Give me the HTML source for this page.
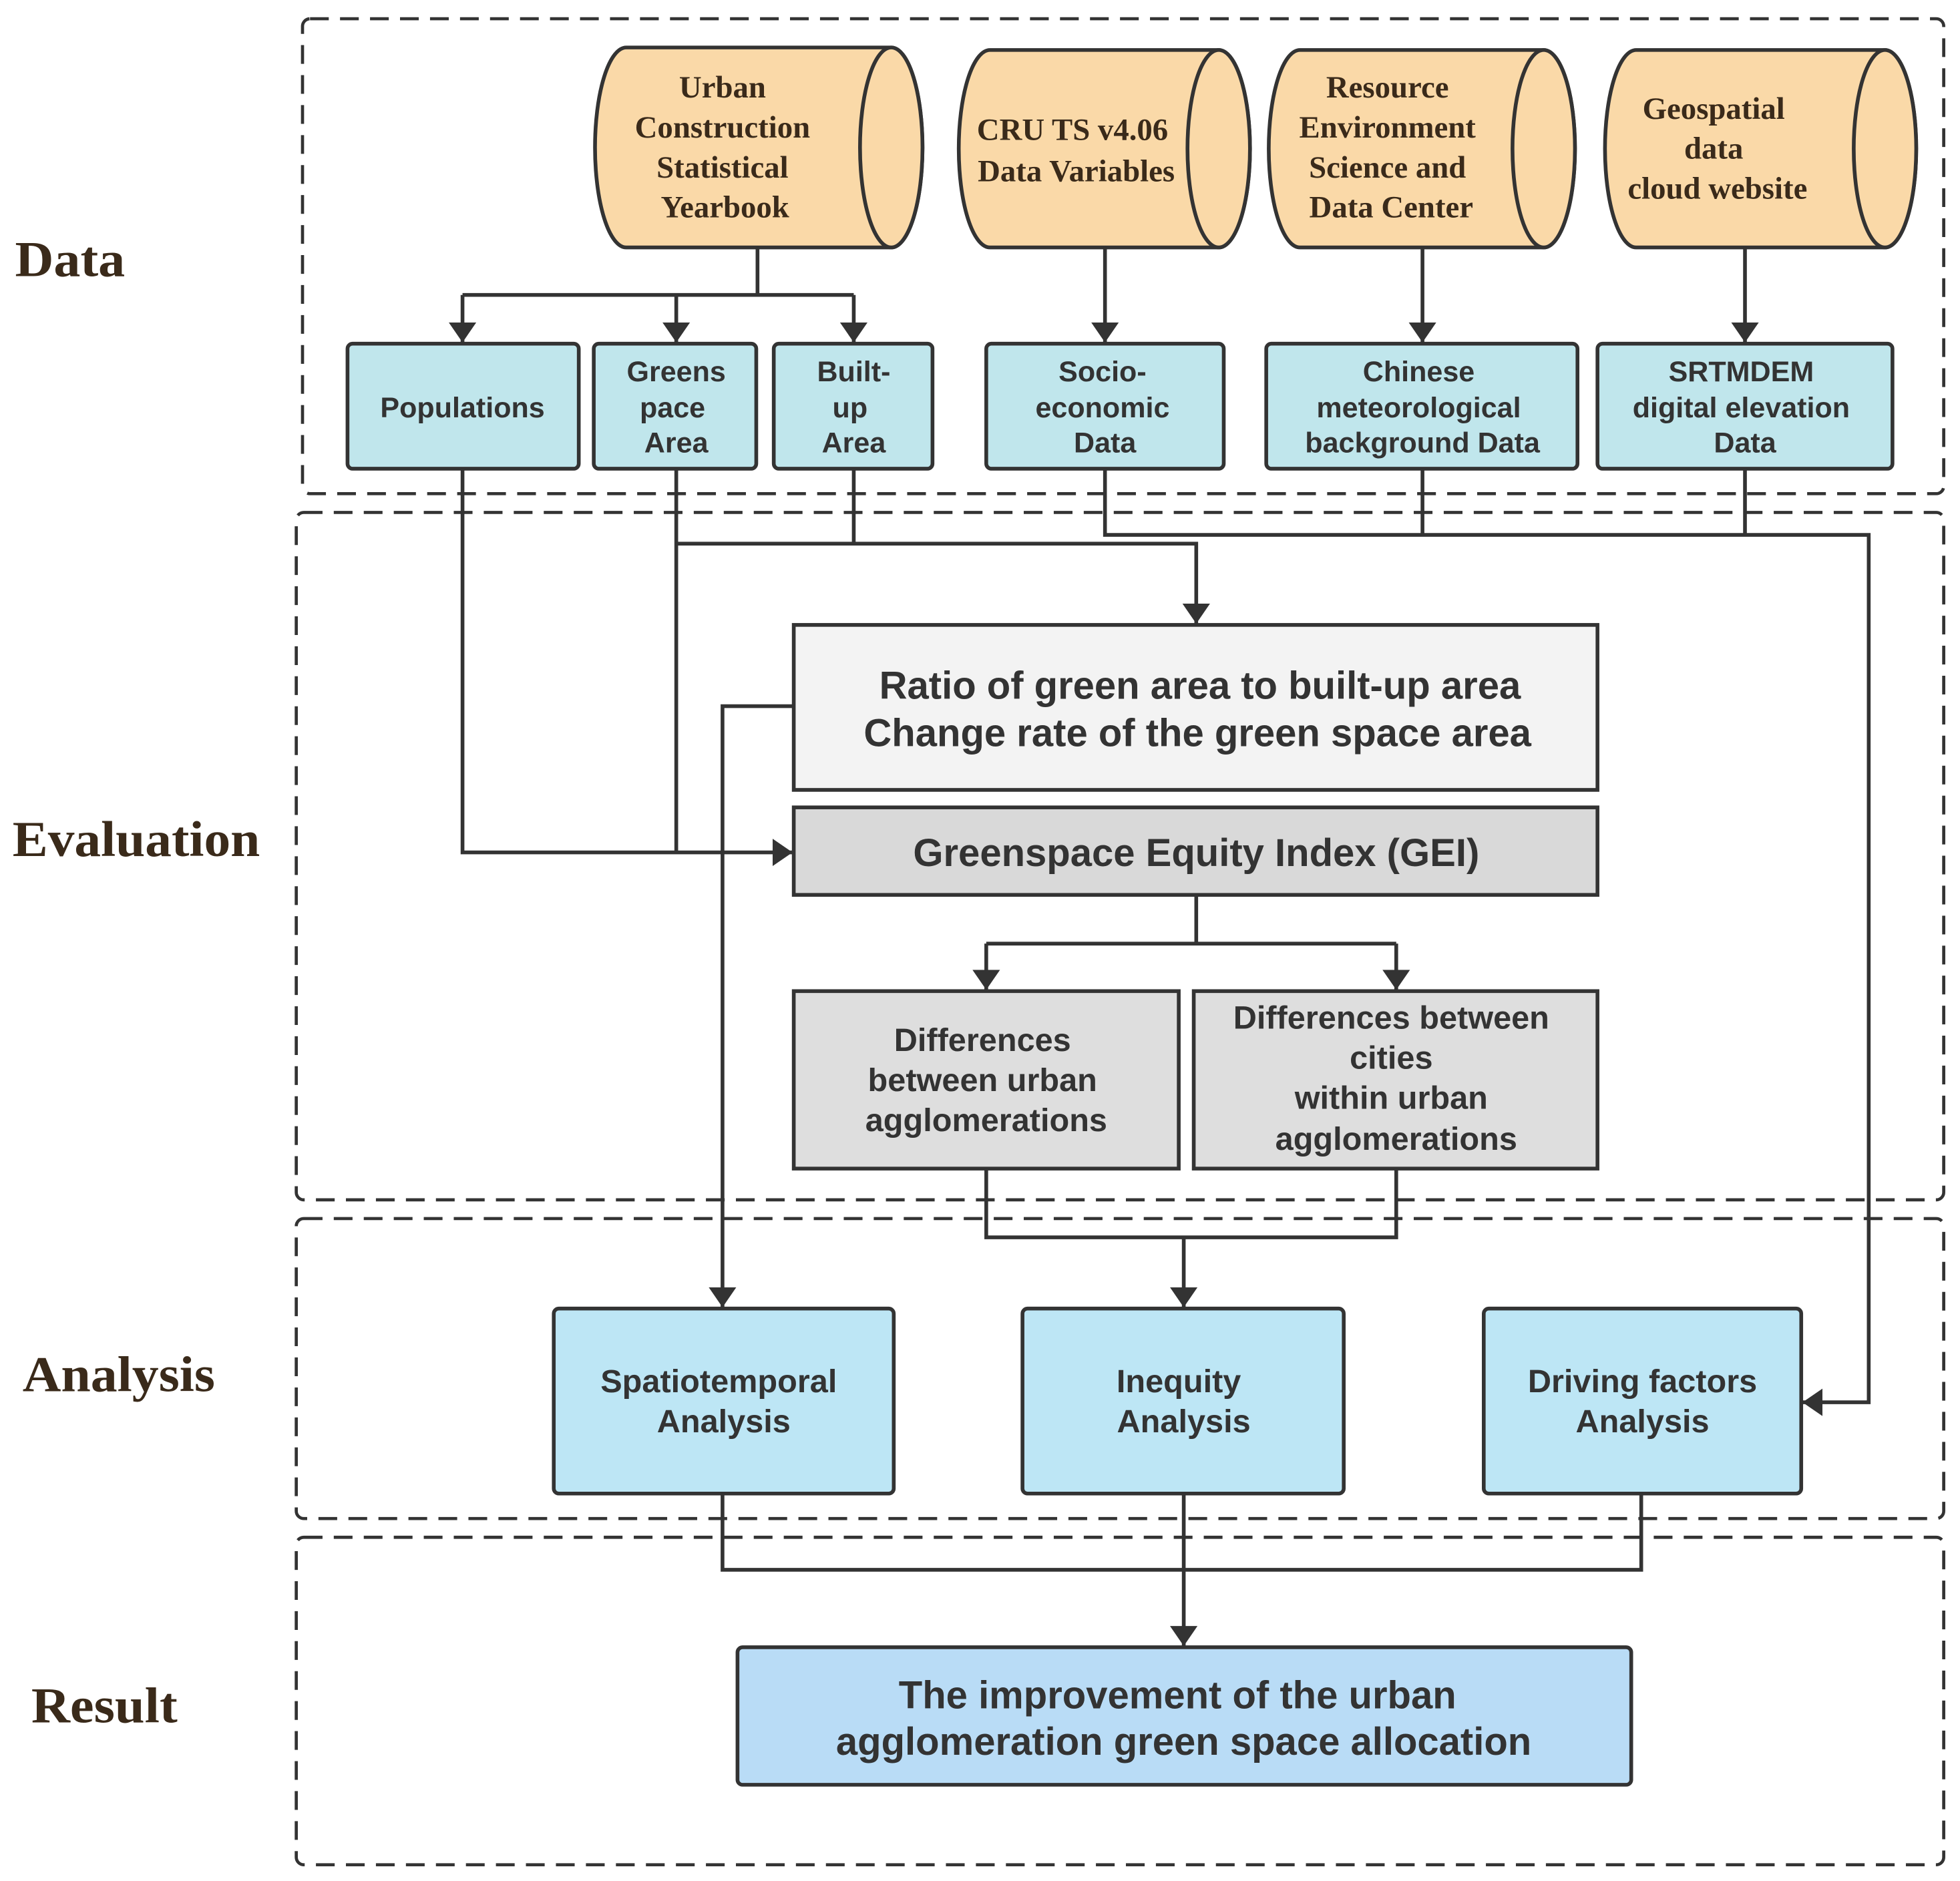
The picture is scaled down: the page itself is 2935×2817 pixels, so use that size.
<!DOCTYPE html>
<html><head><meta charset="utf-8"><style>
html,body{margin:0;padding:0;background:#fff;}
svg{display:block;}
.s{font-family:"Liberation Serif",serif;font-weight:bold;fill:#3a2a1a;}
.b{font-family:"Liberation Sans",sans-serif;font-weight:bold;fill:#333;}
</style></head><body>
<svg width="2935" height="2817" viewBox="0 0 1568 1505" xmlns="http://www.w3.org/2000/svg">
<defs>
<marker id="A" viewBox="0 0 10 10" markerWidth="16" markerHeight="22" refX="10" refY="5" orient="auto" markerUnits="userSpaceOnUse" preserveAspectRatio="none"><path d="M0,0 L10,5 L0,10 Z" fill="#333"/></marker></defs>
<rect width="1568" height="1505" fill="#fff"/>
<g fill="none" stroke="#333" stroke-width="2.5" stroke-dasharray="15,9">
<rect x="242" y="15" width="1313" height="380" rx="6"/>
<rect x="237" y="410" width="1318" height="550" rx="6"/>
<rect x="237" y="975" width="1318" height="240" rx="6"/>
<rect x="237" y="1230" width="1318" height="262" rx="6"/>
</g>
<g class="s" font-size="40"><text x="12" y="221" textLength="88" lengthAdjust="spacingAndGlyphs">Data</text><text x="10" y="685" textLength="198" lengthAdjust="spacingAndGlyphs">Evaluation</text><text x="18" y="1113" textLength="154" lengthAdjust="spacingAndGlyphs">Analysis</text><text x="25" y="1378" textLength="117" lengthAdjust="spacingAndGlyphs">Result</text></g>
<g fill="#fad9a8" stroke="#333" stroke-width="3">
<path d="M501,38 H713 A25,80 0 0 1 713,198 H501 A25,80 0 0 1 501,38 Z"/><ellipse cx="713" cy="118" rx="25" ry="80"/>
<path d="M792,40 H975 A25,79 0 0 1 975,198 H792 A25,79 0 0 1 792,40 Z"/><ellipse cx="975" cy="119" rx="25" ry="79"/>
<path d="M1040,40 H1235 A25,79 0 0 1 1235,198 H1040 A25,79 0 0 1 1040,40 Z"/><ellipse cx="1235" cy="119" rx="25" ry="79"/>
<path d="M1309,40 H1508 A25,79 0 0 1 1508,198 H1309 A25,79 0 0 1 1309,40 Z"/><ellipse cx="1508" cy="119" rx="25" ry="79"/>
</g>
<g class="s" font-size="25" text-anchor="middle">
<text x="578" y="78">Urban</text><text x="578" y="110">Construction</text><text x="578" y="142">Statistical</text><text x="580" y="174">Yearbook</text>
<text x="858" y="112">CRU TS v4.06</text><text x="861" y="145">Data Variables</text>
<text x="1110" y="78">Resource</text><text x="1110" y="110">Environment</text><text x="1110" y="142">Science and</text><text x="1113" y="174">Data Center</text>
<text x="1371" y="95">Geospatial</text><text x="1371" y="127">data</text><text x="1374" y="159">cloud website</text>
</g>
<g stroke="#333" stroke-width="3">
<g fill="#c0e6ec">
<rect x="278" y="275" width="185" height="100" rx="4"/><rect x="475" y="275" width="130" height="100" rx="4"/><rect x="619" y="275" width="127" height="100" rx="4"/>
<rect x="789" y="275" width="190" height="100" rx="4"/><rect x="1013" y="275" width="249" height="100" rx="4"/><rect x="1278" y="275" width="236" height="100" rx="4"/>
</g>
<rect x="635" y="500" width="643" height="132" fill="#f3f3f3"/>
<rect x="635" y="646" width="643" height="70" fill="#d9d9d9"/>
<rect x="635" y="793" width="308" height="142" fill="#dedede"/>
<rect x="955" y="793" width="323" height="142" fill="#dedede"/>
<g fill="#bde6f5"><rect x="443" y="1047" width="272" height="148" rx="4"/><rect x="818" y="1047" width="257" height="148" rx="4"/><rect x="1187" y="1047" width="254" height="148" rx="4"/></g>
<rect x="590" y="1318" width="715" height="110" rx="4" fill="#b9dcf6"/>
</g>
<g class="b" font-size="23" text-anchor="middle">
<text x="370" y="334">Populations</text>
<text x="541" y="305">Greens</text><text x="538" y="334">pace</text><text x="541" y="362">Area</text>
<text x="683" y="305">Built-</text><text x="680" y="334">up</text><text x="683" y="362">Area</text>
<text x="882" y="305">Socio-</text><text x="882" y="334">economic</text><text x="884" y="362">Data</text>
<text x="1135" y="305">Chinese</text><text x="1135" y="334">meteorological</text><text x="1138" y="362">background Data</text>
<text x="1393" y="305">SRTMDEM</text><text x="1393" y="334">digital elevation</text><text x="1396" y="362">Data</text>
</g>
<g class="b" font-size="31" text-anchor="middle">
<text x="960" y="559">Ratio of green area to built-up area</text>
<text x="958" y="597">Change rate of the green space area</text>
<text x="957" y="693">Greenspace Equity Index (GEI)</text>
<text x="942" y="1367">The improvement of the urban</text>
<text x="947" y="1404">agglomeration green space allocation</text>
</g>
<g class="b" font-size="26" text-anchor="middle">
<text x="786" y="841">Differences</text><text x="786" y="873">between urban</text><text x="789" y="905">agglomerations</text>
<text x="1113" y="823">Differences between</text><text x="1113" y="855">cities</text><text x="1113" y="887">within urban</text><text x="1117" y="920">agglomerations</text>
<text x="575" y="1114">Spatiotemporal</text><text x="579" y="1146">Analysis</text>
<text x="943" y="1114">Inequity</text><text x="947" y="1146">Analysis</text>
<text x="1314" y="1114">Driving factors</text><text x="1314" y="1146">Analysis</text>
</g>
<g fill="none" stroke="#333" stroke-width="3">
<path d="M606,198 V236 M370,236 H683"/>
<path d="M370,236 V274" marker-end="url(#A)"/><path d="M541,236 V274" marker-end="url(#A)"/><path d="M683,236 V274" marker-end="url(#A)"/>
<path d="M884,198 V274" marker-end="url(#A)"/><path d="M1138,198 V274" marker-end="url(#A)"/><path d="M1396,198 V274" marker-end="url(#A)"/>
<path d="M370,375 V682 H634" marker-end="url(#A)"/>
<path d="M541,375 V682"/>
<path d="M683,375 V435 M541,435 H957 V499" marker-end="url(#A)"/>
<path d="M884,375 V428 H1495 V1122 H1442" marker-end="url(#A)"/>
<path d="M1138,375 V428 M1396,375 V428"/>
<path d="M635,565 H578 V1046" marker-end="url(#A)"/>
<path d="M957,716 V755 M789,755 H1117"/>
<path d="M789,755 V792" marker-end="url(#A)"/><path d="M1117,755 V792" marker-end="url(#A)"/>
<path d="M789,935 V990 H1117 V935 M947,990 V1046" marker-end="url(#A)"/>
<path d="M578,1195 V1256 H1313 V1195 M947,1195 V1317" marker-end="url(#A)"/>
</g>
</svg>
</body></html>
